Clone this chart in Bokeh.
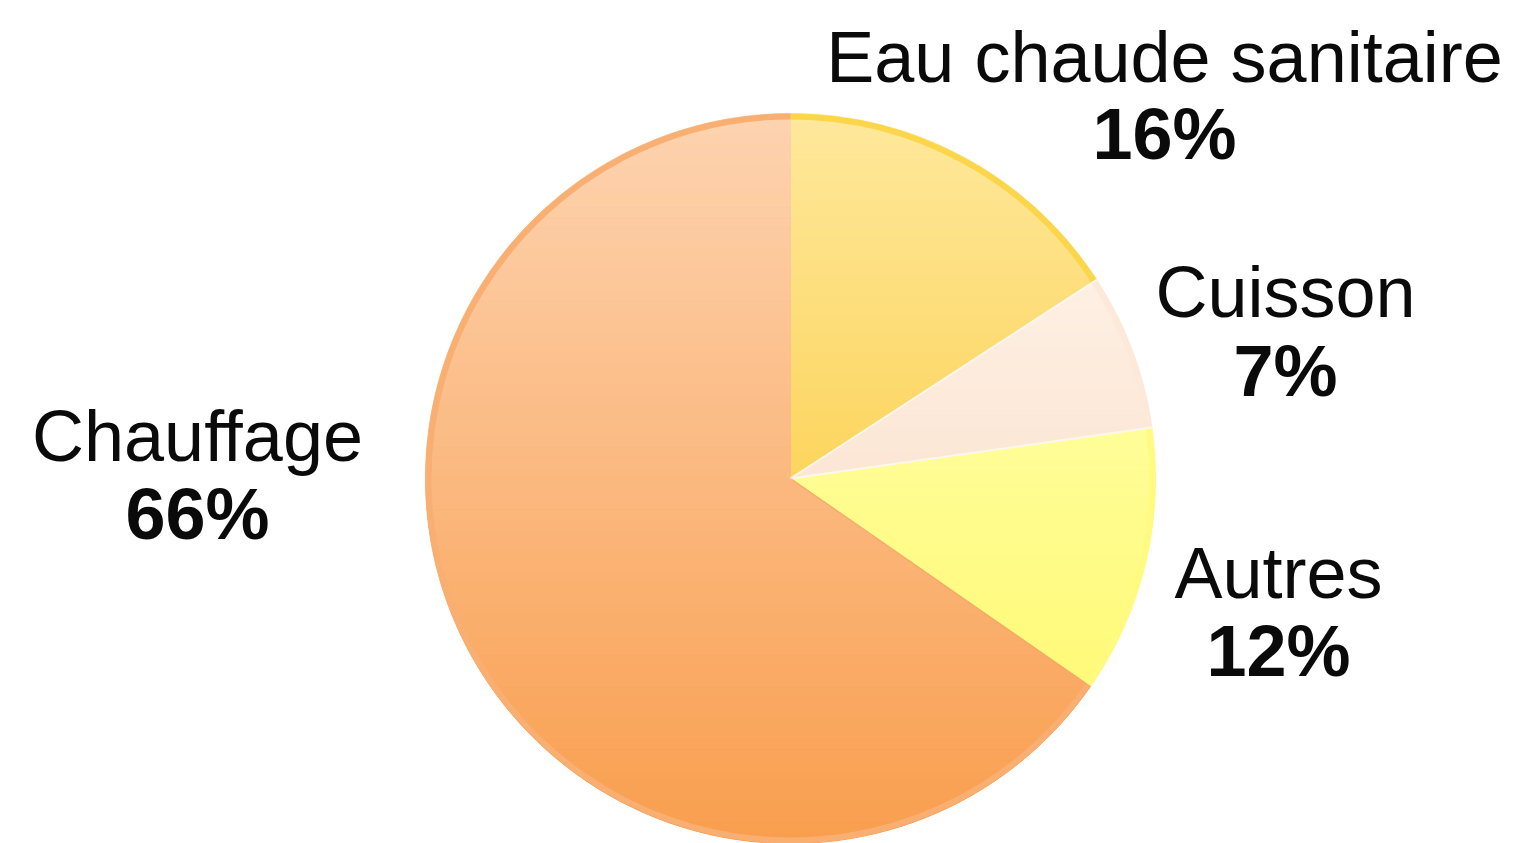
import numpy as np
from bokeh.plotting import figure
from bokeh.models import Range1d
from bokeh.core.properties import value
from bokeh.embed import file_html
from bokeh.resources import INLINE

# ---- data ----
categories = ["Eau chaude sanitaire", "Cuisson", "Autres", "Chauffage"]
values = [16, 7, 12, 66]
# gradient colours per slice (top colour, bottom colour)
top_colors = ["#FEE89C", "#FEF0E4", "#FFFD98", "#FDD3B0"]
bottom_colors = ["#FDD55E", "#FCE6D4", "#FFFA78", "#F99E4E"]
rim_colors = ["#FCD64A", "#FCE9DA", "#FFFB80", "#F9AE72"]

# ---- layout ----
W, H = 1516, 843
def X(px):
    return px
def Y(py):
    return H - py

cx, cy, R = X(790), Y(478), 365.0

p = figure(width=W, height=H, x_range=Range1d(0, W), y_range=Range1d(0, H),
           output_backend="svg", toolbar_location=None, min_border=0)
p.axis.visible = False
p.grid.visible = False
p.outline_line_color = None
p.background_fill_color = "white"
p.border_fill_color = "white"

total = float(sum(values))
fr = np.array(values) / total
cum = np.concatenate([[0], np.cumsum(fr)])
starts = np.pi / 2 - 2 * np.pi * cum[:-1]
ends = np.pi / 2 - 2 * np.pi * cum[1:]

# base wedges
p.wedge(x=[cx] * len(values), y=[cy] * len(values), radius=R, radius_units="screen",
        start_angle=list(starts), end_angle=list(ends), direction="clock",
        fill_color=[c for c in bottom_colors], line_color=None)


def hex2rgb(h):
    h = h.lstrip("#")
    return np.array([int(h[i:i + 2], 16) for i in (0, 2, 4)], dtype=float)


def rgb2hex(c):
    c = np.clip(np.round(c), 0, 255).astype(int)
    return "#%02x%02x%02x" % tuple(c)


def wedge_poly(a0, a1, n=240):
    a = np.linspace(a0, a1, n)
    xs = np.concatenate([[cx], cx + R * np.cos(a)])
    ys = np.concatenate([[cy], cy + R * np.sin(a)])
    return list(zip(xs, ys))


def clip(poly, yv, keep_above):
    out = []
    if not poly:
        return out
    def inside(pt):
        return pt[1] >= yv if keep_above else pt[1] <= yv
    prev = poly[-1]
    for cur in poly:
        ci, pi_ = inside(cur), inside(prev)
        if ci:
            if not pi_:
                t = (yv - prev[1]) / (cur[1] - prev[1])
                out.append((prev[0] + t * (cur[0] - prev[0]), yv))
            out.append(cur)
        elif pi_:
            t = (yv - prev[1]) / (cur[1] - prev[1])
            out.append((prev[0] + t * (cur[0] - prev[0]), yv))
        prev = cur
    return out

# gradient bands
NB = 70
band_xs, band_ys, band_cols = [], [], []
for i in range(len(values)):
    poly = wedge_poly(starts[i], ends[i])
    ys_all = [pt[1] for pt in poly]
    ymin, ymax = min(ys_all), max(ys_all)
    edges = np.linspace(ymax, ymin, NB + 1)
    ct, cb = hex2rgb(top_colors[i]), hex2rgb(bottom_colors[i])
    for k in range(NB):
        y_hi, y_lo = edges[k], edges[k + 1]
        q = clip(clip(poly, y_lo, True), y_hi, False)
        if len(q) < 3:
            continue
        t = (k + 0.5) / NB
        col = rgb2hex(ct + (cb - ct) * t)
        band_xs.append([pt[0] for pt in q])
        band_ys.append([pt[1] for pt in q])
        band_cols.append(col)

p.patches(xs=band_xs, ys=band_ys, fill_color=band_cols, line_color=band_cols, line_width=1)

# rims
p.arc(x=[cx] * len(values), y=[cy] * len(values), radius=R - 3, radius_units="screen",
      start_angle=list(starts), end_angle=list(ends), direction="clock",
      line_color=rim_colors, line_width=6)

# slice separators
p.segment(x0=[cx] * 2, y0=[cy] * 2,
          x1=[cx + R * np.cos(a) for a in ends[:2]],
          y1=[cy + R * np.sin(a) for a in ends[:2]],
          line_color="#FFF6EE", line_width=2)
p.segment(x0=[cx], y0=[cy],
          x1=[cx + R * np.cos(ends[2])], y1=[cy + R * np.sin(ends[2])],
          line_color="#F5A865", line_width=1.5, line_alpha=0.7)

# labels
label_px = [1164, 1285, 1278, 197]
name_py = [56, 291, 572, 435]
pct_py = [133, 370, 650, 513]

p.text(x=[X(v) for v in label_px], y=[Y(v) for v in name_py], text=categories,
       text_font=value("Liberation Sans"), text_font_size="72px",
       text_align="center", text_baseline="alphabetic", text_color="#0a0a0a")
p.text(x=[X(v) for v in label_px], y=[Y(v) for v in pct_py], text=[f"{v}%" for v in values],
       text_font=value("Liberation Sans"), text_font_size="72px", text_font_style="bold",
       text_align="center", text_baseline="alphabetic", text_color="#0a0a0a")

open("out.html", "w").write(file_html(p, INLINE))
